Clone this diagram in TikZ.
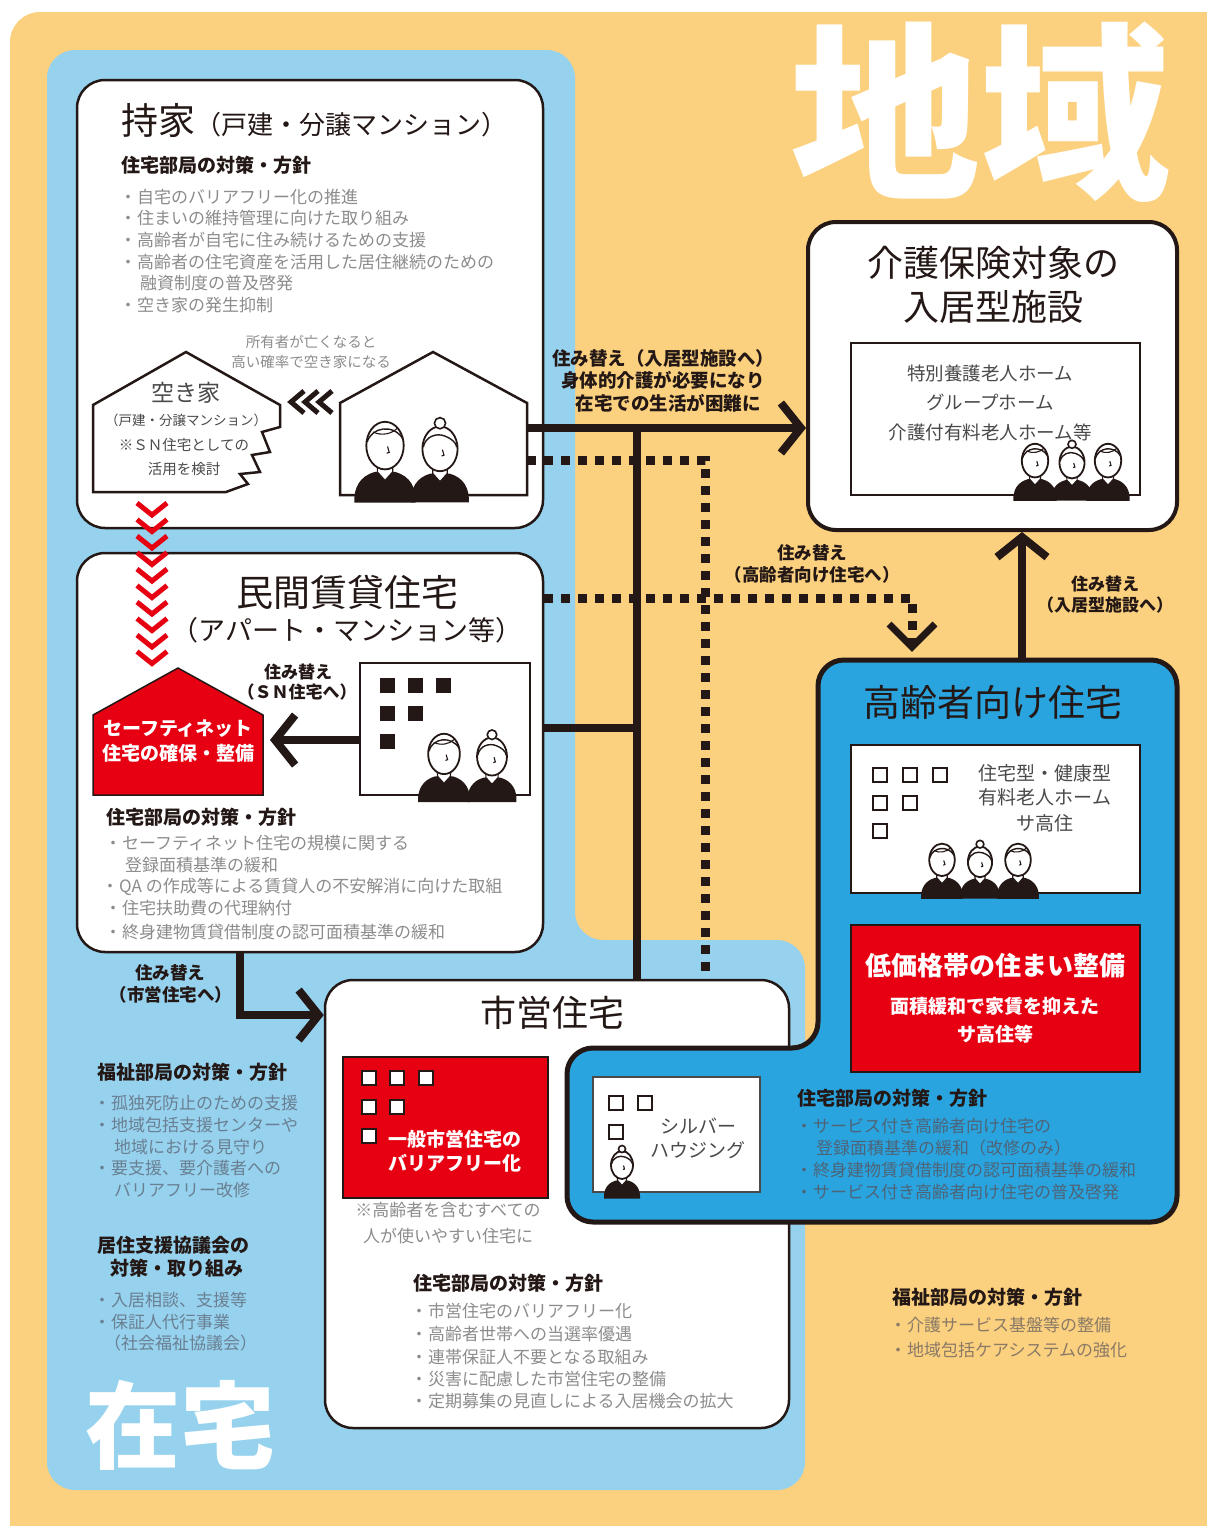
\documentclass[tikz,border=0pt]{standalone}
\usepackage{fontspec}
\setmainfont{Noto Sans CJK JP}
\usetikzlibrary{arrows.meta}
\definecolor{ink}{HTML}{231815}
\definecolor{bgorange}{HTML}{FBD07F}
\definecolor{lightblue}{HTML}{96D2EE}
\definecolor{midblue}{HTML}{2AA4DF}
\definecolor{alertred}{HTML}{E60012}
\definecolor{bodygray}{HTML}{8C8C8C}
\definecolor{bluegray}{HTML}{4D6478}
\definecolor{slategray}{HTML}{6A7F92}
\definecolor{darkgray}{HTML}{4A4A4A}
\definecolor{warmgray}{HTML}{8A7A66}
\newcommand\fs[1]{\fontsize{#1}{#1}\selectfont}
\newcommand\bul{\makebox[12pt][l]{\hspace*{-5.5pt}・}}
\newcommand\cont{\hspace*{15pt}}

% body of an elderly figure, base at (0,0), drawn upward
\newcommand\elderbody{%
  \fill[ink] (-36,3) .. controls (-37,-14) and (-30,-28) .. (-12,-33) -- (12,-33)
    .. controls (30,-28) and (37,-14) .. (36,3) -- cycle;
  \filldraw[fill=white, draw=ink, line width=1.2pt] (-9,-33) -- (0,-23) -- (9,-33) -- (9,-42) -- (-9,-42) -- cycle;
  \draw[ink, line width=1.8pt, fill=white] (0,-64) ellipse (22 and 28);
  \draw[ink, line width=1.1pt] (3,-63) -- (5,-56) -- (2,-55);
}

\tikzset{
  panel/.style={draw=ink, line width=2.5pt, fill=white, rounded corners=28pt, inner sep=0pt},
  frame/.style={draw=ink, line width=2pt, fill=white, inner sep=0pt},
  ttl/.style={inner sep=0pt, text=ink, font=\fs{37}},
  hd/.style={inner sep=0pt, anchor=west, text=ink, font=\fs{19}\bfseries},
  itm/.style={inner sep=0pt, anchor=west, text=bodygray, font=\fs{17}},
  lbl/.style={inner sep=0pt, text=ink, font=\fs{18}\bfseries},
  inner/.style={inner sep=0pt, text=darkgray, font=\fs{19}},
  redtxt/.style={inner sep=0pt, text=white, font=\fs{19}\bfseries},
  win/.style={draw=ink, line width=2.5pt, fill=white, minimum size=14pt, inner sep=0pt},
  blk/.style={fill=ink, minimum size=15pt, inner sep=0pt},
  conn/.style={draw=ink, line width=8pt, -{Straight Barb[length=20pt,width=50pt]}},
  trunk/.style={draw=ink, line width=8pt},
  dotline/.style={draw=ink, line width=9pt, dash pattern=on 9pt off 8pt},
  elderman/.pic={
    \elderbody
    \draw[ink, line width=1.4pt] (-21,-68) .. controls (-16,-86) and (10,-90) .. (21,-72);
    \draw[ink, line width=1.1pt] (-14,-80) .. controls (-4,-75) and (8,-78) .. (14,-84);
  },
  elderwoman/.pic={
    \elderbody
    \draw[ink, line width=1.4pt] (-21,-66) .. controls (-18,-80) and (-4,-84) .. (6,-80) .. controls (14,-77) and (20,-72) .. (21,-66);
    \draw[ink, line width=1.6pt, fill=white] (0,-96) circle (7);
  },
}

\begin{document}
\begin{tikzpicture}[x=1pt, y=-1pt]
\useasboundingbox (0,0) rectangle (1207,1526);
\clip (0,0) rectangle (1207,1526);
\fill[white] (0,0) rectangle (1207,1526);

% regional background and the home-care area
\fill[bgorange, rounded corners=30pt] (10,12) rectangle (1260,1580);
\node[inner sep=0pt, text=white, font=\fs{190}\bfseries] (chiiki) at (980,112) {地域};
\fill[lightblue, rounded corners=28pt] (47,50) -- (575,50) -- (575,940) -- (805,940) -- (805,1490) -- (47,1490) -- cycle;
\node[inner sep=0pt, text=white, font=\fs{95}\bfseries] (zaitaku) at (180,1425) {在宅};

% main panels
\node[panel, minimum width=466pt, minimum height=448pt] (own) at (310,304) {};
\node[panel, minimum width=466pt, minimum height=399pt] (minkan) at (310,752.5) {};
\node[panel, minimum width=464pt, minimum height=448pt] (shiei) at (557,1204) {};
\node[panel, line width=4pt, minimum width=369pt, minimum height=308pt] (kaigo) at (992.5,376) {};

% senior housing area (overlaps the municipal panel)
\draw[ink, line width=5pt, fill=midblue, rounded corners=26pt]
  (818,660) -- (1177,660) -- (1177,1222) -- (567,1222) -- (567,1048) -- (818,1048) -- cycle;
\coordinate (kourei) at (1022,660);

% ---------- owner-occupied houses ----------
\node[ttl, anchor=west] (ownT) at (121,120) {持家{\fs{26}（戸建・分譲マンション）}};
\node[hd] (ownH) at (121,165) {住宅部局の対策・方針};
\node[itm] (own1) at (125,197) {\bul 自宅のバリアフリー化の推進};
\node[itm] (own2) at (125,218) {\bul 住まいの維持管理に向けた取り組み};
\node[itm] (own3) at (125,240) {\bul 高齢者が自宅に住み続けるための支援};
\node[itm] (own4) at (125,262) {\bul 高齢者の住宅資産を活用した居住継続のための};
\node[itm] (own4b) at (125,283) {\cont 融資制度の普及啓発};
\node[itm] (own5) at (125,305) {\bul 空き家の発生抑制};
\node[inner sep=0pt, text=bodygray, font=\fs{14.5}] (ownN1) at (311,342) {所有者が亡くなると};
\node[inner sep=0pt, text=bodygray, font=\fs{14.5}] (ownN2) at (311,362) {高い確率で空き家になる};

% vacant house with broken corner
\draw[ink, line width=2.5pt, fill=white, line join=miter]
  (226,492) -- (93,492) -- (93,405) -- (186,352) -- (280,405) -- (280,427)
  -- (262,432) -- (270,452) -- (252,455) -- (260,472) -- (240,474) -- (248,484) -- cycle;
\node[inner sep=0pt, text=darkgray, font=\fs{23}] (ak1) at (186,393) {空き家};
\node[inner sep=0pt, text=darkgray, font=\fs{13.5}] (ak2) at (186,420) {（戸建・分譲マンション）};
\node[inner sep=0pt, text=darkgray, font=\fs{14.5}] (ak3) at (184,445) {※ＳＮ住宅としての};
\node[inner sep=0pt, text=darkgray, font=\fs{14.5}] (ak4) at (184,469) {活用を検討};

% arrows from the occupied house to the vacant one
\foreach \x in {291,305,319}
  \draw[ink, line width=5pt] ({\x+13},391) -- (\x,402) -- ({\x+13},413);

% occupied house
\draw[ink, line width=2.5pt, fill=white, line join=miter]
  (340,495) -- (340,403) -- (433,352) -- (527,403) -- (527,495) -- cycle;
\coordinate (housewall) at (527,428);
\coordinate (housewall2) at (527,460);
\pic[scale=0.85] at (385,500) {elderman};
\pic[scale=0.8] at (440,500) {elderwoman};

% red chevrons: vacant house -> safety net housing
\foreach \k in {0,...,9}
  \draw[alertred, line width=5pt] (137,{503+16.5*\k}) -- (152,{515+16.5*\k}) -- (167,{503+16.5*\k});

% ---------- private rental ----------
\node[ttl] (minT) at (347,592) {民間賃貸住宅};
\node[ttl, font=\fs{27}] (minS) at (347,630) {（アパート・マンション等）};
\draw[ink, line width=1.5pt, fill=alertred] (93,795) -- (93,715) -- (178,668) -- (263,715) -- (263,795) -- cycle;
\coordinate (snhouse) at (270,740);
\node[redtxt] (sn1) at (178,729) {セーフティネット};
\node[redtxt] (sn2) at (178,753) {住宅の確保・整備};
\node[frame, line width=2.5pt, minimum width=170pt, minimum height=132pt] (bldg) at (445,729) {};
\node[blk] (bw1) at (387,685) {};
\node[blk] (bw2) at (415,685) {};
\node[blk] (bw3) at (443,685) {};
\node[blk] (bw4) at (387,713) {};
\node[blk] (bw5) at (415,713) {};
\node[blk] (bw6) at (387,741) {};
\pic[scale=0.72] at (444,800) {elderman};
\pic[scale=0.68] at (492,800) {elderwoman};
\node[lbl, font=\fs{17}\bfseries] (snL1) at (298,672) {住み替え};
\node[lbl, font=\fs{17}\bfseries] (snL2) at (297,692) {（ＳＮ住宅へ）};
\draw[conn] (bldg.west |- snhouse) -- (snhouse);

\node[hd] (minH) at (106,817) {住宅部局の対策・方針};
\node[itm] (min1) at (110,843) {\bul セーフティネット住宅の規模に関する};
\node[itm] (min1b) at (110,865) {\cont 登録面積基準の緩和};
\node[itm] (min2) at (107,887) {\bul QA の作成等による賃貸人の不安解消に向けた取組};
\node[itm] (min3) at (110,908) {\bul 住宅扶助費の代理納付};
\node[itm] (min4) at (110,932) {\bul 終身建物賃貸借制度の認可面積基準の緩和};

% ---------- care facilities ----------
\node[ttl, font=\fs{36}] (kgT1) at (993,263) {介護保険対象の};
\node[ttl, font=\fs{36}] (kgT2) at (993,307) {入居型施設};
\node[frame, minimum width=289pt, minimum height=152pt] (kgIn) at (995.5,419) {};
\node[inner, font=\fs{18.5}] (kg1) at (990,373) {特別養護老人ホーム};
\node[inner, font=\fs{18.5}] (kg2) at (990,402) {グループホーム};
\node[inner, font=\fs{18.5}] (kg3) at (990,432) {介護付有料老人ホーム等};
\pic[scale=0.6] at (1035,499) {elderman};
\pic[scale=0.57] at (1072,499) {elderwoman};
\pic[scale=0.6] at (1108,499) {elderman};

% ---------- connectors ----------
\coordinate (trunktop) at (637,428);
\coordinate (trunkjoin) at (637,728);
\draw[conn] (housewall) -- (kaigo.west |- housewall);
\draw[trunk] (trunktop) -- (shiei.north -| trunktop);
\draw[trunk] (minkan.east |- trunkjoin) -- (trunkjoin);
\coordinate (dotbend1) at (705,460);
\draw[dotline] (housewall2) -- (dotbend1) -- (shiei.north -| dotbend1);
\coordinate (dotbend2) at (912,598);
\coordinate (dotend) at (912,647);
\draw[dotline] (minkan.east |- dotbend2) -- (dotbend2) -- (dotend);
\draw[ink, line width=7pt, line join=miter] (889,624) -- (912,647) -- (935,624);
\draw[conn] (kourei) -- (kaigo.south -| kourei);
\coordinate (toshiei) at (240,1015);
\draw[ink, line width=8pt, -{Straight Barb[length=20pt,width=50pt]}]
  (minkan.south -| toshiei) -- (toshiei) -- (shiei.west |- toshiei);

\node[lbl, font=\fs{18.5}\bfseries] (mvA1) at (663,358) {住み替え（入居型施設へ）};
\node[lbl, font=\fs{18.5}\bfseries] (mvA2) at (663,380) {身体的介護が必要になり};
\node[lbl, font=\fs{18.5}\bfseries] (mvA3) at (668,403) {在宅での生活が困難に};
\node[lbl, font=\fs{17.5}\bfseries] (mvB1) at (812,553) {住み替え};
\node[lbl, font=\fs{17.5}\bfseries] (mvB2) at (812,575) {（高齢者向け住宅へ）};
\node[lbl, font=\fs{17}\bfseries] (mvC1) at (1105,584) {住み替え};
\node[lbl, font=\fs{17}\bfseries] (mvC2) at (1105,605) {（入居型施設へ）};
\node[lbl, font=\fs{17.5}\bfseries] (mvD1) at (170,973) {住み替え};
\node[lbl, font=\fs{17.5}\bfseries] (mvD2) at (171,995) {（市営住宅へ）};

% ---------- municipal housing ----------
\node[ttl, font=\fs{36}] (shT) at (552,1013) {市営住宅};
\node[draw=ink, line width=1.5pt, fill=alertred, minimum width=205pt, minimum height=141pt, inner sep=0pt] (shRed) at (445.5,1127.5) {};
\node[win] (sw1) at (369,1078) {};
\node[win] (sw2) at (397,1078) {};
\node[win] (sw3) at (426,1078) {};
\node[win] (sw4) at (369,1107) {};
\node[win] (sw5) at (397,1107) {};
\node[win] (sw6) at (369,1136) {};
\node[redtxt] (sh1) at (455,1139) {一般市営住宅の};
\node[redtxt] (sh2) at (455,1163) {バリアフリー化};
\node[inner sep=0pt, text=bodygray, font=\fs{17}] (shN1) at (448,1210) {※高齢者を含むすべての};
\node[inner sep=0pt, text=bodygray, font=\fs{17}] (shN2) at (448,1236) {人が使いやすい住宅に};
\node[hd] (shH) at (413,1283) {住宅部局の対策・方針};
\node[itm] (sh3) at (416,1311) {\bul 市営住宅のバリアフリー化};
\node[itm] (sh4) at (416,1334) {\bul 高齢者世帯への当選率優遇};
\node[itm] (sh5) at (416,1357) {\bul 連帯保証人不要となる取組み};
\node[itm] (sh6) at (416,1379) {\bul 災害に配慮した市営住宅の整備};
\node[itm] (sh7) at (416,1401) {\bul 定期募集の見直しによる入居機会の拡大};

% ---------- senior housing ----------
\node[ttl] (krT) at (993,702) {高齢者向け住宅};
\node[frame, minimum width=289pt, minimum height=148pt] (krIn) at (995.5,819) {};
\node[win] (kw1) at (880,775) {};
\node[win] (kw2) at (910,775) {};
\node[win] (kw3) at (940,775) {};
\node[win] (kw4) at (880,803) {};
\node[win] (kw5) at (910,803) {};
\node[win] (kw6) at (880,831) {};
\node[inner] (kr1) at (1045,773) {住宅型・健康型};
\node[inner] (kr2) at (1045,797) {有料老人ホーム};
\node[inner] (kr3) at (1045,823) {サ高住};
\pic[scale=0.58] at (942,897) {elderman};
\pic[scale=0.55] at (980,897) {elderwoman};
\pic[scale=0.58] at (1018,897) {elderman};
\node[draw=ink, line width=1.5pt, fill=alertred, minimum width=289pt, minimum height=147pt, inner sep=0pt] (krRed) at (995.5,998.5) {};
\node[redtxt, font=\fs{26}\bfseries] (kr4) at (995,966) {低価格帯の住まい整備};
\node[redtxt] (kr5) at (995,1006) {面積緩和で家賃を抑えた};
\node[redtxt] (kr6) at (995,1034) {サ高住等};
\node[frame, draw=darkgray, minimum width=167pt, minimum height=115pt] (silver) at (676.5,1134.5) {};
\node[win] (vw1) at (616,1103) {};
\node[win] (vw2) at (645,1103) {};
\node[win] (vw3) at (616,1132) {};
\node[inner] (sv1) at (698,1126) {シルバー};
\node[inner] (sv2) at (698,1150) {ハウジング};
\pic[scale=0.5] at (622,1197) {elderwoman};
\node[hd] (krH) at (797,1098) {住宅部局の対策・方針};
\node[itm, text=bluegray] (kr7) at (801,1126) {\bul サービス付き高齢者向け住宅の};
\node[itm, text=bluegray] (kr7b) at (801,1148) {\cont 登録面積基準の緩和（改修のみ）};
\node[itm, text=bluegray] (kr8) at (801,1170) {\bul 終身建物賃貸借制度の認可面積基準の緩和};
\node[itm, text=bluegray] (kr9) at (801,1192) {\bul サービス付き高齢者向け住宅の普及啓発};

% ---------- welfare measures ----------
\node[hd] (wfH) at (97,1072) {福祉部局の対策・方針};
\node[itm, text=slategray] (wf1) at (99,1103) {\bul 孤独死防止のための支援};
\node[itm, text=slategray] (wf2) at (99,1125) {\bul 地域包括支援センターや};
\node[itm, text=slategray] (wf2b) at (99,1147) {\cont 地域における見守り};
\node[itm, text=slategray] (wf3) at (99,1168) {\bul 要支援、要介護者への};
\node[itm, text=slategray] (wf3b) at (99,1190) {\cont バリアフリー改修};
\node[hd] (rsH1) at (97,1245) {居住支援協議会の};
\node[hd] (rsH2) at (110,1268) {対策・取り組み};
\node[itm, text=slategray] (rs1) at (99,1300) {\bul 入居相談、支援等};
\node[itm, text=slategray] (rs2) at (99,1322) {\bul 保証人代行事業};
\node[itm, text=slategray] (rs2b) at (104,1343) {（社会福祉協議会）};

\node[hd] (rwH) at (892,1297) {福祉部局の対策・方針};
\node[itm, text=warmgray] (rw1) at (895,1325) {\bul 介護サービス基盤等の整備};
\node[itm, text=warmgray] (rw2) at (895,1350) {\bul 地域包括ケアシステムの強化};
\end{tikzpicture}
\end{document}
